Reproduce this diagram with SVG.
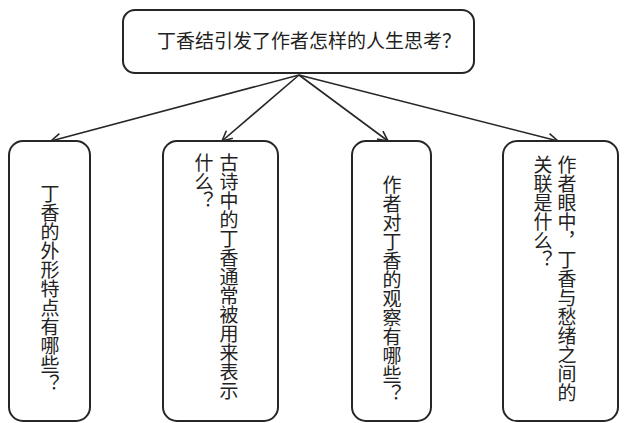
<svg xmlns="http://www.w3.org/2000/svg" width="624" height="423" viewBox="0 0 624 423">
<style>
.box{fill:#fff;stroke:#262626;stroke-width:2}
.t{font-family:"Noto Sans CJK SC","Noto Sans CJK JP",sans-serif;font-size:19px;fill:#222}
.v{writing-mode:vertical-rl}
.c{fill:none;stroke:#262626;stroke-width:1.6}
</style>
<defs>
<marker id="a" viewBox="0 0 12 12" refX="11" refY="6" markerWidth="12" markerHeight="12" markerUnits="userSpaceOnUse" orient="auto">
<path d="M1,1 L11,6 L1,11" fill="none" stroke="#262626" stroke-width="1.6"/>
</marker>
</defs>
<rect width="624" height="423" fill="#fff"/>
<g id="connectors">
<line class="c" x1="299" y1="75" x2="51" y2="141" marker-end="url(#a)"/>
<line class="c" x1="299" y1="75" x2="222" y2="141" marker-end="url(#a)"/>
<line class="c" x1="299" y1="75" x2="388" y2="141" marker-end="url(#a)"/>
<line class="c" x1="299" y1="75" x2="558" y2="141" marker-end="url(#a)"/>
</g>
<g id="root">
<rect class="box" x="123" y="10" width="351" height="63" rx="12"/>
<text class="t" x="157" y="48">丁香结引发了作者怎样的人生思考？</text>
</g>
<g id="n1">
<rect class="box" x="9" y="141" width="81" height="280" rx="14"/>
<text class="t v" x="50" y="184">丁香的外形特点有哪些？</text>
</g>
<g id="n2">
<rect class="box" x="163" y="141" width="115" height="280" rx="14"/>
<text class="t v" x="229" y="153">古诗中的丁香通常被用来表示</text>
<text class="t v" x="204" y="153">什么？</text>
</g>
<g id="n3">
<rect class="box" x="352" y="141" width="79" height="280" rx="14"/>
<text class="t v" x="392" y="175">作者对丁香的观察有哪些？</text>
</g>
<g id="n4">
<rect class="box" x="503" y="141" width="115" height="280" rx="14"/>
<text class="t v" x="567" y="155">作者眼中，丁香与愁绪之间的</text>
<text class="t v" x="543" y="155">关联是什么？</text>
</g>
</svg>
